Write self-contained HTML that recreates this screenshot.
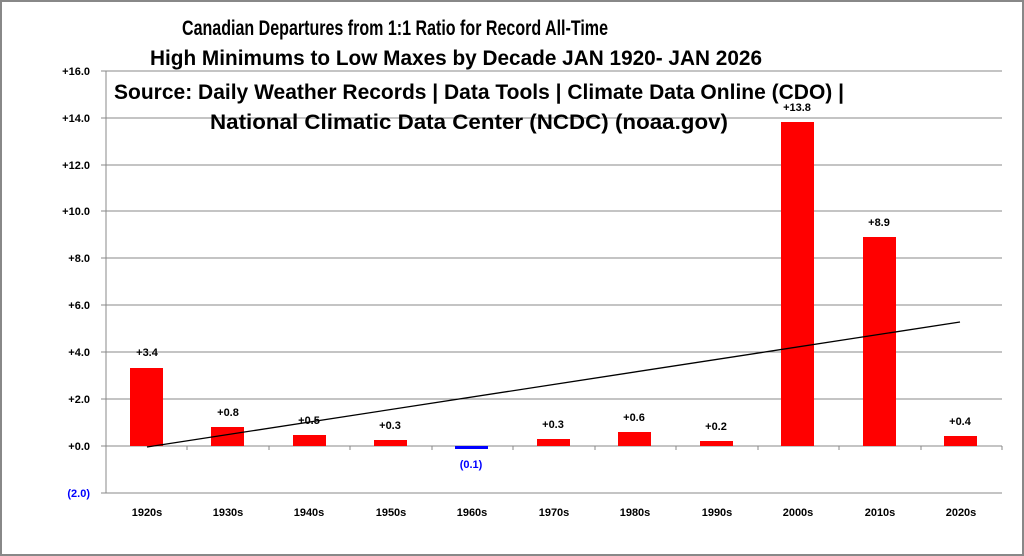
<!DOCTYPE html>
<html><head><meta charset="utf-8"><style>
html,body{margin:0;padding:0;background:#fff}
svg{display:block}
</style></head><body>
<svg width="1024" height="556" xmlns="http://www.w3.org/2000/svg" font-family="Liberation Sans, sans-serif">
<rect x="1" y="1" width="1022" height="554" fill="#fff" stroke="#888" stroke-width="2"/>
<g stroke="#888" stroke-width="1">
<line x1="101" y1="71" x2="1002" y2="71"/>
<line x1="101" y1="118" x2="1002" y2="118"/>
<line x1="101" y1="165" x2="1002" y2="165"/>
<line x1="101" y1="211" x2="1002" y2="211"/>
<line x1="101" y1="258" x2="1002" y2="258"/>
<line x1="101" y1="305" x2="1002" y2="305"/>
<line x1="101" y1="352" x2="1002" y2="352"/>
<line x1="101" y1="399" x2="1002" y2="399"/>
<line x1="101" y1="446" x2="1002" y2="446"/>
<line x1="101" y1="493" x2="1002" y2="493"/>
<line x1="106" y1="71" x2="106" y2="493"/>
<line x1="187" y1="446" x2="187" y2="450"/><line x1="269" y1="446" x2="269" y2="450"/>
<line x1="350" y1="446" x2="350" y2="450"/><line x1="432" y1="446" x2="432" y2="450"/>
<line x1="513" y1="446" x2="513" y2="450"/><line x1="595" y1="446" x2="595" y2="450"/>
<line x1="676" y1="446" x2="676" y2="450"/><line x1="758" y1="446" x2="758" y2="450"/>
<line x1="839" y1="446" x2="839" y2="450"/><line x1="921" y1="446" x2="921" y2="450"/>
<line x1="1002" y1="446" x2="1002" y2="450"/>
</g>
<g fill="#ff0000">
<rect x="130" y="368" width="33" height="78"/>
<rect x="211" y="427" width="33" height="19"/>
<rect x="293" y="435" width="33" height="11"/>
<rect x="374" y="440" width="33" height="6"/>
<rect x="537" y="439" width="33" height="7"/>
<rect x="618" y="432" width="33" height="14"/>
<rect x="700" y="441" width="33" height="5"/>
<rect x="781" y="122" width="33" height="324"/>
<rect x="863" y="237" width="33" height="209"/>
<rect x="944" y="436" width="33" height="10"/>
</g>
<rect x="455" y="446" width="33" height="3" fill="#0000ff"/>
<line x1="147" y1="447" x2="960" y2="322" stroke="#000" stroke-width="1.3"/>
<g font-size="11" font-weight="bold" text-anchor="end" fill="#000">
<text x="90" y="75">+16.0</text><text x="90" y="122">+14.0</text><text x="90" y="169">+12.0</text>
<text x="90" y="215">+10.0</text><text x="90" y="262">+8.0</text><text x="90" y="309">+6.0</text>
<text x="90" y="356">+4.0</text><text x="90" y="403">+2.0</text><text x="90" y="450">+0.0</text>
<text x="90" y="497" fill="#0000ff">(2.0)</text>
</g>
<g font-size="11" font-weight="bold" text-anchor="middle">
<text x="147" y="356">+3.4</text><text x="228" y="416">+0.8</text><text x="309" y="424">+0.5</text>
<text x="390" y="429">+0.3</text><text x="471" y="468" fill="#0000ff">(0.1)</text>
<text x="553" y="428">+0.3</text><text x="634" y="421">+0.6</text><text x="716" y="430">+0.2</text>
<text x="797" y="111">+13.8</text><text x="879" y="226">+8.9</text><text x="960" y="425">+0.4</text>
<text x="147" y="516">1920s</text><text x="228" y="516">1930s</text><text x="309" y="516">1940s</text>
<text x="391" y="516">1950s</text><text x="472" y="516">1960s</text><text x="554" y="516">1970s</text>
<text x="635" y="516">1980s</text><text x="717" y="516">1990s</text><text x="798" y="516">2000s</text>
<text x="880" y="516">2010s</text><text x="961" y="516">2020s</text>
</g>
<g font-size="21" font-weight="bold">
<text x="182" y="35" textLength="426" lengthAdjust="spacingAndGlyphs">Canadian Departures from 1:1 Ratio for Record All-Time</text>
<text x="150" y="65" textLength="612" lengthAdjust="spacingAndGlyphs">High Minimums to Low Maxes by Decade JAN 1920- JAN 2026</text>
<text x="114" y="99" textLength="730" lengthAdjust="spacingAndGlyphs">Source: Daily Weather Records | Data Tools | Climate Data Online (CDO) |</text>
<text x="210" y="129" textLength="518" lengthAdjust="spacingAndGlyphs">National Climatic Data Center (NCDC) (noaa.gov)</text>
</g>
</svg>
</body></html>
